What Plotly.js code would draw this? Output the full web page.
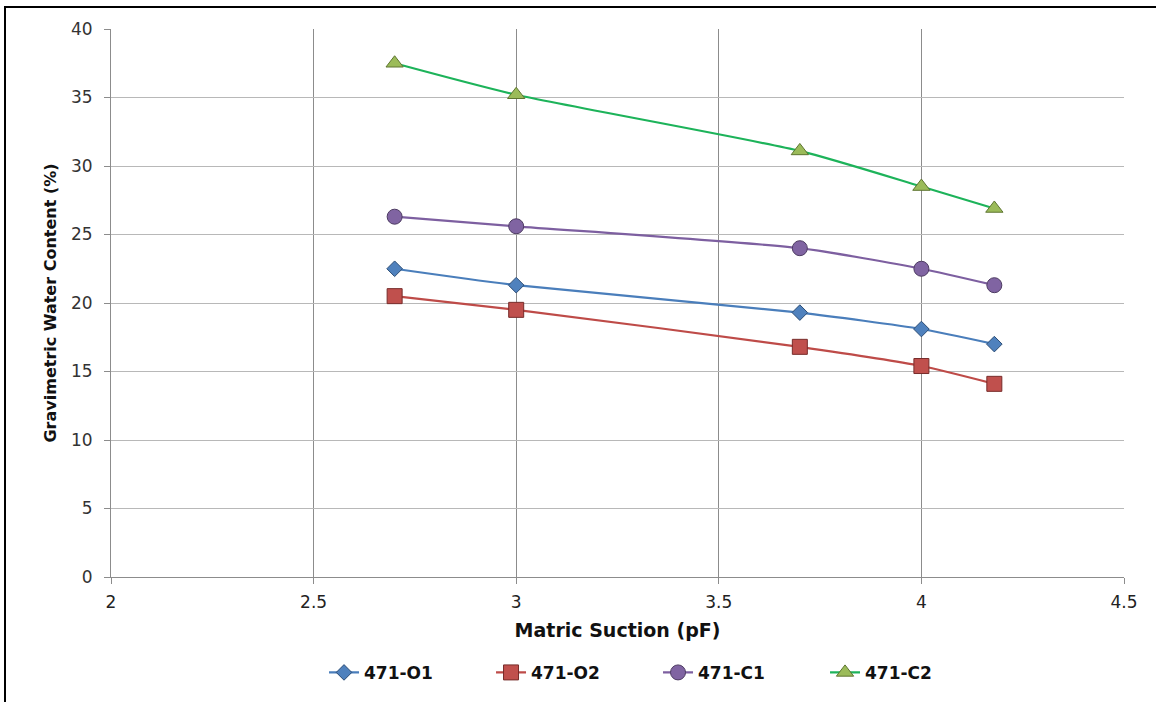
<!DOCTYPE html>
<html>
<head>
<meta charset="utf-8">
<script src="https://cdn.plot.ly/plotly-3.0.1.min.js"></script>
<style>
  html, body { margin: 0; padding: 0; background: #fff; }
  #frame { position: absolute; left: 4px; top: 6px; width: 1152px; height: 696px;
           border-top: 2px solid #000; border-left: 2px solid #000; box-sizing: border-box; }
  #chart { position: absolute; left: 0; top: 0; width: 1156px; height: 702px; }
</style>
</head>
<body>
<div id="frame"></div>
<div id="chart"></div>
<script>
// Data
const suction = [2.7, 3, 3.7, 4, 4.18];
const seriesNames = ["471-O1", "471-O2", "471-C1", "471-C2"];
const o1 = [22.5, 21.3, 19.3, 18.1, 17.0];
const o2 = [20.5, 19.5, 16.8, 15.4, 14.1];
const c1 = [26.3, 25.6, 24.0, 22.5, 21.3];
const c2 = [37.5, 35.2, 31.1, 28.5, 26.9];
const xTicks = [2, 2.5, 3, 3.5, 4, 4.5];
const yTicks = [0, 5, 10, 15, 20, 25, 30, 35, 40];

const styles = [
  {line: "#4a7ebb", fill: "#4f81bd", edge: "#2c4d75", symbol: "diamond", size: 12},
  {line: "#be4b48", fill: "#c0504d", edge: "#772c2a", symbol: "square", size: 15},
  {line: "#7d5fa0", fill: "#8064a2", edge: "#4d3b62", symbol: "circle", size: 15},
  {line: "#1db35a", fill: "#9bbb59", edge: "#5e7530", symbol: "triangle-up", size: 15}
];
const values = [o1, o2, c1, c2];

const traces = values.map((v, i) => ({
  x: suction, y: v, name: seriesNames[i], type: "scatter", mode: "lines+markers",
  line: {color: styles[i].line, width: 2.2, shape: "spline", smoothing: 0.6},
  marker: {symbol: styles[i].symbol, size: styles[i].size, color: styles[i].fill,
           line: {color: styles[i].edge, width: 1}}
}));

const font = "'DejaVu Sans', 'Open Sans', sans-serif";
const layout = {
  width: 1156, height: 702,
  paper_bgcolor: "rgba(0,0,0,0)", plot_bgcolor: "#fff",
  margin: {l: 111, r: 32, t: 29, b: 124},
  font: {family: font, size: 17, color: "#333"},
  showlegend: true,
  legend: {orientation: "h", x: 0.54, xanchor: "center", y: -0.14, yanchor: "top",
           font: {family: font, size: 17, color: "#111", weight: "bold"}, itemwidth: 30,
           entrywidth: 122, entrywidthmode: "pixels"},
  xaxis: {
    range: [2, 4.5], tickvals: xTicks, ticktext: xTicks.map(String),
    showgrid: true, gridcolor: "#8c8c8c", gridwidth: 1,
    showline: true, linecolor: "#8c8c8c", linewidth: 1,
    ticks: "outside", ticklen: 6, tickcolor: "#8c8c8c", ticklabelstandoff: 4,
    zeroline: false, tickfont: {family: font, size: 17, color: "#222"},
    title: {text: "Matric Suction (pF)", standoff: 12,
            font: {family: font, size: 19, color: "#111", weight: "bold"}}
  },
  yaxis: {
    range: [0, 40], tickvals: yTicks, ticktext: yTicks.map(String),
    showgrid: true, gridcolor: "#b8b8b8", gridwidth: 1,
    showline: true, linecolor: "#8c8c8c", linewidth: 1,
    ticks: "outside", ticklen: 6, tickcolor: "#8c8c8c", ticklabelstandoff: 8,
    zeroline: false, tickfont: {family: font, size: 17, color: "#333"},
    title: {text: "Gravimetric Water Content (%)", standoff: 10,
            font: {family: font, size: 16, color: "#111", weight: "bold"}}
  }
};

Plotly.newPlot("chart", traces, layout, {displayModeBar: false, staticPlot: true});
</script>
</body>
</html>
